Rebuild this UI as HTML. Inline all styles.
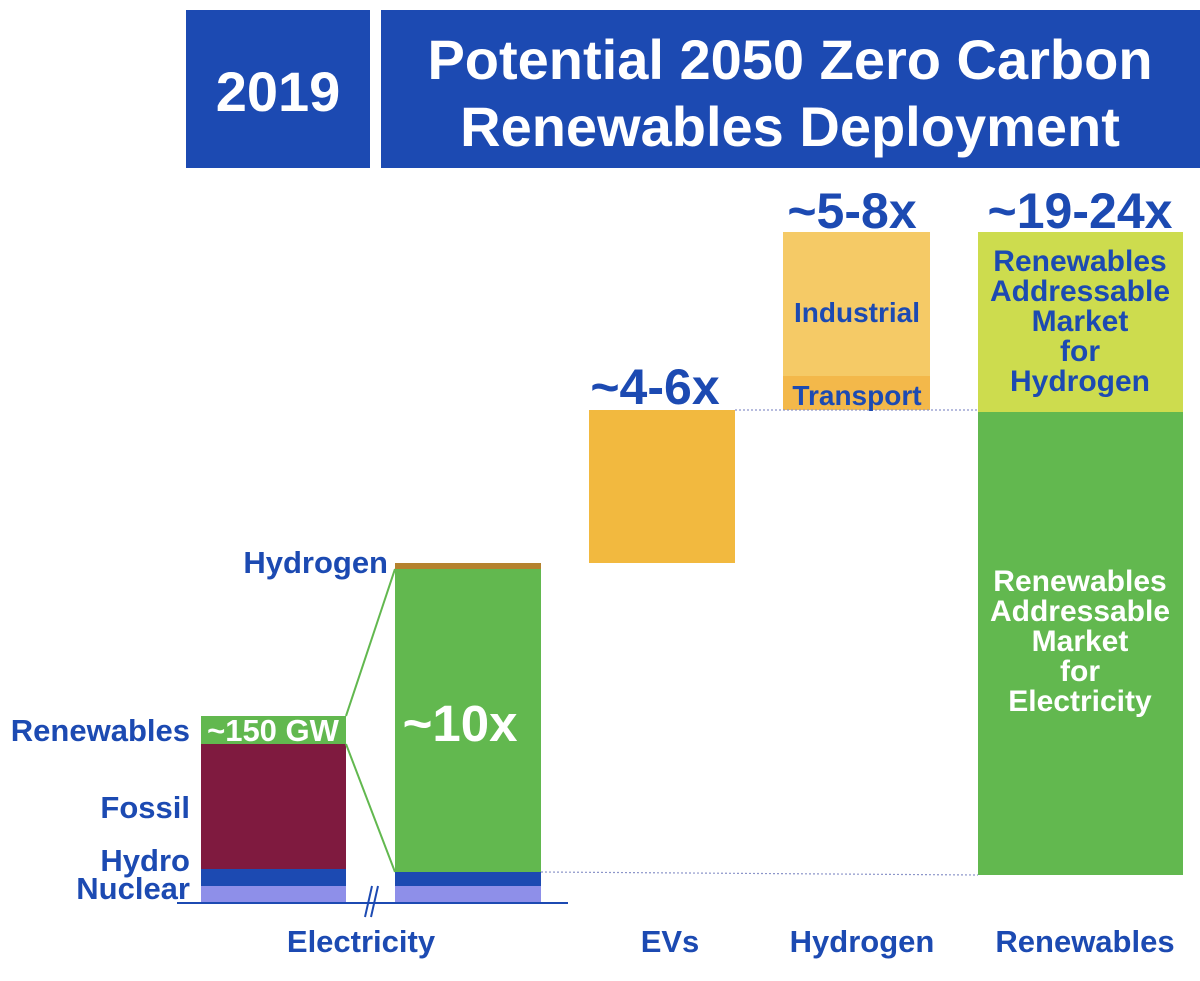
<!DOCTYPE html>
<html><head><meta charset="utf-8"><style>
html,body{margin:0;padding:0;background:#fff;}
svg{display:block;}
svg text{font-family:"Liberation Sans",Arial,sans-serif;font-weight:bold;}
</style></head><body>
<svg id="c" width="1200" height="981" viewBox="0 0 1200 981">
<rect x="186" y="10" width="184" height="158" fill="#1c4ab2"/>
<text x="278" y="111" text-anchor="middle" font-size="56" fill="#fff">2019</text>
<rect x="381" y="10" width="819" height="158" fill="#1c4ab2"/>
<text x="790" y="79" text-anchor="middle" font-size="56" fill="#fff">Potential 2050 Zero Carbon</text>
<text x="790" y="146" text-anchor="middle" font-size="56" fill="#fff">Renewables Deployment</text>
<g id="marks"></g>
</svg>
<script>
// values in chart units (1 unit = 1px above baseline)
const categories = ["Electricity 2019", "Electricity 2050", "EVs", "Hydrogen", "Renewables"];
const elec2019Segments = ["Nuclear", "Hydro", "Fossil", "Renewables"];
const elec2019Values = [16, 17, 125, 28];
const elec2050Segments = ["Nuclear", "Hydro", "Renewables", "Hydrogen"];
const elec2050Values = [16, 14, 303, 6];
const evRange = [339, 492];
const hydrogenSegments = ["Transport", "Industrial"];
const hydrogenValues = [34, 144];
const renewSegments = ["Electricity", "Hydrogen"];
const renewRange = [27, 490, 670];
const multLabels = ["~10x", "~4-6x", "~5-8x", "~19-24x"];

const base = 902;
function y(v){ return base - v; }
const ns = "http://www.w3.org/2000/svg";
const g = document.getElementById('marks');
function mk(tag, attrs, txt){
  const e = document.createElementNS(ns, tag);
  for (const k in attrs) e.setAttribute(k, attrs[k]);
  if (txt !== undefined) e.textContent = txt;
  g.appendChild(e);
  return e;
}
function bar(x, w, v0, v1, fill, name){
  const e = mk('rect', {x:x, y:y(v1), width:w, height:y(v0)-y(v1), fill:fill});
  
  
  return e;
}
function label(x, yy, t, size, fill, anchor, name){
  const e = mk('text', {x:x, y:yy, 'font-size':size, fill:fill, 'text-anchor':anchor}, t);
  
  
  return e;
}
const blue = "#1c4ab2";
const c2019 = ["#8e8fe9", "#1c4ab2", "#7f1a3f", "#62b84f"];
let acc = 0;
elec2019Values.forEach((v, i) => {
  bar(201, 145, acc, acc + v, c2019[i], 'bar-2019-' + elec2019Segments[i].toLowerCase());
  acc += v;
});
const top2019 = acc, fossilTop = acc - elec2019Values[3];
const c2050 = ["#8e8fe9", "#1c4ab2", "#62b84f", "#b5822e"];
acc = 0;
let green0 = 0, green1 = 0;
elec2050Values.forEach((v, i) => {
  bar(395, 146, acc, acc + v, c2050[i], 'bar-2050-' + elec2050Segments[i].toLowerCase());
  if (i === 2) { green0 = acc; green1 = acc + v; }
  acc += v;
});
const top2050 = acc;
let l = mk('line', {x1:346, y1:y(top2019), x2:395, y2:y(green1), stroke:"#62b84f", 'stroke-width':2});


l = mk('line', {x1:346, y1:y(fossilTop), x2:395, y2:y(green0), stroke:"#62b84f", 'stroke-width':2});


l = mk('line', {x1:177, y1:base + 1, x2:568, y2:base + 1, stroke:blue, 'stroke-width':2});


l = mk('path', {d:"M365 917 L372 886 M371 917 L378 886", stroke:blue, 'stroke-width':2, fill:'none'});


bar(589, 146, evRange[0], evRange[1], "#f2b93f", 'bar-evs');
const hc = ["#f3b84a", "#f5ca66"];
acc = evRange[1];
hydrogenValues.forEach((v, i) => {
  bar(783, 147, acc, acc + v, hc[i], 'bar-hydrogen-' + hydrogenSegments[i].toLowerCase());
  acc += v;
});
const hydTop = acc;
bar(978, 205, renewRange[0], renewRange[1], "#62b84f", 'bar-renewables-electricity');
bar(978, 205, renewRange[1], renewRange[2], "#cddc4e", 'bar-renewables-hydrogen');
l = mk('line', {x1:541, y1:y(green0), x2:978, y2:y(renewRange[0]), stroke:"#8c95c9", 'stroke-width':1.2, 'stroke-dasharray':'2,2'});


l = mk('line', {x1:735, y1:y(evRange[1]), x2:978, y2:y(evRange[1]), stroke:"#8c95c9", 'stroke-width':1.2, 'stroke-dasharray':'2,2'});


label(190, 741, "Renewables", 31, blue, "end", 'label-renewables');
label(190, 818, "Fossil", 31, blue, "end", 'label-fossil');
label(190, 871, "Hydro", 31, blue, "end", 'label-hydro');
label(190, 899, "Nuclear", 31, blue, "end", 'label-nuclear');
label(388, y(top2050) + 10, "Hydrogen", 31, blue, "end", 'label-hydrogen-2050');
label(273, 741, "~150 GW", 31, "#fff", "middle", 'label-150gw');
label(460, 741, multLabels[0], 51, "#fff", "middle", 'label-10x');
label(655, y(evRange[1]) - 6, multLabels[1], 50, blue, "middle", 'label-evs-mult');
label(852, y(hydTop) - 4, multLabels[2], 50, blue, "middle", 'label-hydrogen-mult');
label(1080, y(renewRange[2]) - 4, multLabels[3], 50, blue, "middle", 'label-renewables-mult');
label(857, 322, "Industrial", 28, blue, "middle", 'label-industrial');
label(857, 405, "Transport", 28, blue, "middle", 'label-transport');
["Renewables","Addressable","Market","for","Hydrogen"].forEach((t, i) =>
  label(1080, 271 + i * 30, t, 30, blue, "middle", 'label-ram-hydrogen-' + i));
["Renewables","Addressable","Market","for","Electricity"].forEach((t, i) =>
  label(1080, 591 + i * 30, t, 30, "#fff", "middle", 'label-ram-electricity-' + i));
label(361, 952, "Electricity", 31, blue, "middle", 'category-electricity');
label(670, 952, "EVs", 31, blue, "middle", 'category-evs');
label(862, 952, "Hydrogen", 31, blue, "middle", 'category-hydrogen');
label(1085, 952, "Renewables", 31, blue, "middle", 'category-renewables');
</script>
</body></html>
